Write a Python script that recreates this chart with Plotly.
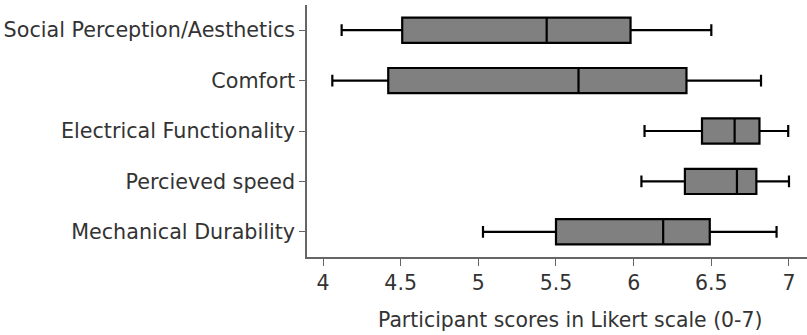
import plotly.graph_objects as go

categories = ["Social Perception/Aesthetics", "Comfort", "Electrical Functionality",
              "Percieved speed", "Mechanical Durability"]
lower = [4.12, 4.06, 6.07, 6.05, 5.03]
q1 = [4.51, 4.42, 6.44, 6.33, 5.50]
median = [5.44, 5.645, 6.65, 6.665, 6.19]
q3 = [5.98, 6.34, 6.81, 6.79, 6.49]
upper = [6.50, 6.82, 6.995, 7.0, 6.92]
tick_vals = [4, 4.5, 5, 5.5, 6, 6.5, 7]
tick_text = ["4", "4.5", "5", "5.5", "6", "6.5", "7"]
x_title = "Participant scores in Likert scale (0-7)"

fig = go.Figure()
fig.add_trace(go.Box(
    y=categories, q1=q1, median=median, q3=q3,
    lowerfence=lower, upperfence=upper,
    orientation="h",
    fillcolor="#808080",
    line=dict(color="#000000", width=2.2),
    whiskerwidth=0.47,
    width=0.5,
    boxpoints=False,
    showlegend=False,
))

fig.update_layout(
    width=807, height=335,
    margin=dict(l=307, r=0, t=5, b=78, autoexpand=False),
    paper_bgcolor="white", plot_bgcolor="white",
    font=dict(family="DejaVu Sans", size=20, color="#333333"),
    annotations=[dict(
        text=x_title, xref="paper", yref="paper", x=0.526, y=-0.25,
        xanchor="center", yanchor="middle", showarrow=False,
        font=dict(size=20.4, color="#333333"),
    )],
)
fig.update_xaxes(
    range=[3.897, 7.116], tickvals=tick_vals, ticktext=tick_text,
    tickfont=dict(size=20.5),
    showline=True, linecolor="#666666", linewidth=1.5,
    ticks="outside", ticklen=7, tickcolor="#666666",
    showgrid=False, zeroline=False, automargin=False,
)
fig.update_yaxes(
    categoryorder="array", categoryarray=categories[::-1],
    range=[-0.5, 4.5], tickfont=dict(size=20.7),
    showline=True, linecolor="#666666", linewidth=1.5,
    ticks="outside", ticklen=6, tickcolor="#666666",
    showgrid=False, zeroline=False, automargin=False,
)

fig.write_html("out.html", config={"displayModeBar": False},
               post_script="document.body.style.margin='0px';")
